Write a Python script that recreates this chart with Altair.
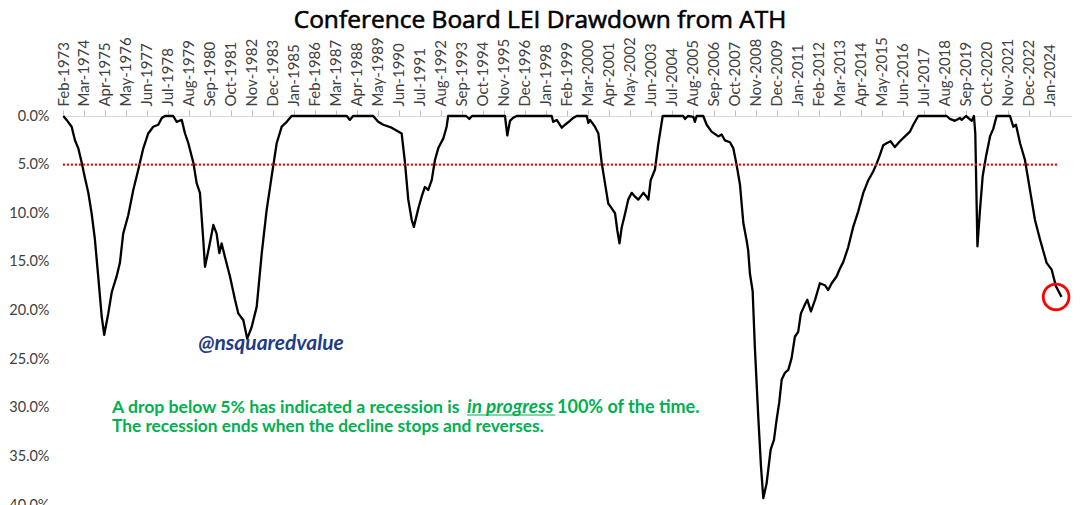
import altair as alt
import pandas as pd

# ---------------- data ----------------
years = [
    1973.10, 1973.27, 1973.53, 1973.70, 1973.87, 1974.05, 1974.22, 1974.39, 1974.56, 1974.73,
    1974.90, 1975.08, 1975.21, 1975.42, 1975.60, 1975.85, 1976.02, 1976.19, 1976.45, 1976.71,
    1976.97, 1977.23, 1977.48, 1977.74, 1978.00, 1978.18, 1978.35, 1978.77, 1978.95, 1979.21,
    1979.38, 1979.55, 1979.81, 1979.98, 1980.15, 1980.32, 1980.41, 1980.63, 1980.84, 1981.01,
    1981.15, 1981.27, 1981.44, 1981.70, 1981.96, 1982.13, 1982.39, 1982.59, 1982.82, 1983.08,
    1983.34, 1983.59, 1983.85, 1984.11, 1984.37, 1984.63, 1984.88, 1987.72, 1987.89, 1988.05,
    1989.09, 1989.35, 1989.61, 1990.04, 1990.38, 1990.56, 1990.73, 1990.90, 1991.08, 1991.19,
    1991.42, 1991.59, 1991.76, 1991.93, 1992.11, 1992.28, 1992.45, 1992.71, 1992.88, 1992.96,
    1993.88, 1994.05, 1994.19, 1995.89, 1996.01, 1996.15, 1996.30, 1996.49, 1998.30, 1998.38,
    1998.56, 1998.82, 1998.99, 1999.24, 1999.41, 1999.59, 2000.11, 2000.19, 2000.28, 2000.53,
    2000.71, 2000.88, 2001.05, 2001.22, 2001.40, 2001.57, 2001.69, 2001.80, 2001.91, 2002.08,
    2002.25, 2002.43, 2002.60, 2002.77, 2003.03, 2003.20, 2003.29, 2003.41, 2003.63, 2003.80,
    2004.03, 2005.09, 2005.18, 2005.33, 2005.61, 2005.69, 2005.78, 2006.12, 2006.30, 2006.55,
    2006.90, 2007.07, 2007.24, 2007.50, 2007.67, 2007.85, 2008.02, 2008.19, 2008.36, 2008.44,
    2008.53, 2008.67, 2008.79, 2008.96, 2009.10, 2009.22, 2009.39, 2009.60, 2009.77, 2009.91,
    2010.04, 2010.17, 2010.34, 2010.51, 2010.68, 2010.85, 2011.02, 2011.16, 2011.32, 2011.49,
    2011.68, 2011.89, 2012.14, 2012.40, 2012.57, 2012.75, 2013.00, 2013.17, 2013.35, 2013.60,
    2013.86, 2014.12, 2014.38, 2014.64, 2014.89, 2015.07, 2015.24, 2015.41, 2015.58, 2015.79,
    2016.01, 2016.27, 2016.53, 2016.79, 2016.96, 2017.22, 2018.68, 2018.85, 2019.11, 2019.37,
    2019.46, 2019.68, 2019.98, 2020.09, 2020.16, 2020.27, 2020.40, 2020.54, 2020.71, 2020.92,
    2021.09, 2021.26, 2021.95, 2022.12, 2022.26, 2022.47, 2022.72, 2022.98, 2023.24, 2023.50,
    2023.84, 2024.10, 2024.32, 2024.61,
]
drawdown_pct = [
    0.0, 0.4, 1.1, 2.5, 3.3, 4.8, 6.4, 7.9, 10.0, 12.7,
    16.5, 20.6, 22.5, 20.3, 18.1, 16.5, 15.1, 12.1, 10.2, 7.6,
    5.5, 3.3, 1.8, 1.1, 0.9, 0.2, 0.0, 0.0, 0.6, 0.4,
    1.8, 2.8, 4.8, 6.9, 7.9, 12.7, 15.5, 13.4, 11.2, 12.1,
    14.1, 13.1, 14.5, 16.5, 18.9, 20.3, 21.0, 22.9, 21.7, 19.6,
    14.1, 9.7, 6.2, 2.8, 1.1, 0.6, 0.0, 0.0, 0.4, 0.0,
    0.0, 0.6, 0.9, 1.2, 1.6, 1.8, 4.8, 8.6, 10.7, 11.4,
    9.5, 8.3, 7.3, 7.6, 6.6, 4.5, 3.3, 2.3, 1.1, 0.0,
    0.0, 0.3, 0.0, 0.0, 2.0, 0.5, 0.2, 0.0, 0.0, 0.6,
    0.4, 1.2, 0.9, 0.5, 0.2, 0.0, 0.0, 0.7, 0.4, 1.1,
    1.8, 4.8, 6.9, 9.0, 9.5, 10.0, 11.8, 13.1, 11.5, 10.1,
    8.6, 7.9, 8.3, 8.6, 7.9, 8.3, 8.6, 6.6, 5.5, 2.9,
    0.0, 0.0, 0.3, 0.0, 0.1, 0.6, 0.0, 0.0, 0.9, 1.6,
    2.1, 1.9, 2.5, 2.7, 3.3, 5.1, 7.1, 11.0, 12.8, 13.8,
    16.2, 18.0, 24.0, 30.9, 36.0, 39.3, 37.8, 34.3, 33.3, 31.2,
    29.5, 27.1, 26.4, 26.1, 24.9, 22.7, 22.2, 20.3, 19.6, 18.9,
    20.1, 18.9, 17.2, 17.4, 17.9, 17.2, 16.5, 15.7, 15.0, 13.5,
    11.4, 9.8, 7.9, 6.6, 5.7, 4.9, 4.0, 3.0, 2.8, 2.6,
    3.2, 2.6, 2.1, 1.6, 0.9, 0.0, 0.0, 0.3, 0.5, 0.2,
    0.4, 0.0, 0.5, 0.0, 1.8, 13.4, 9.7, 6.2, 4.2, 2.1,
    1.3, 0.0, 0.0, 1.1, 0.9, 2.8, 4.5, 7.6, 10.7, 12.7,
    15.1, 15.8, 17.5, 18.6,
]

tick_labels = [
    "Feb-1973", "Mar-1974", "Apr-1975", "May-1976", "Jun-1977", "Jul-1978", "Aug-1979",
    "Sep-1980", "Oct-1981", "Nov-1982", "Dec-1983", "Jan-1985", "Feb-1986", "Mar-1987",
    "Apr-1988", "May-1989", "Jun-1990", "Jul-1991", "Aug-1992", "Sep-1993", "Oct-1994",
    "Nov-1995", "Dec-1996", "Jan-1998", "Feb-1999", "Mar-2000", "Apr-2001", "May-2002",
    "Jun-2003", "Jul-2004", "Aug-2005", "Sep-2006", "Oct-2007", "Nov-2008", "Dec-2009",
    "Jan-2011", "Feb-2012", "Mar-2013", "Apr-2014", "May-2015", "Jun-2016", "Jul-2017",
    "Aug-2018", "Sep-2019", "Oct-2020", "Nov-2021", "Dec-2022", "Jan-2024",
]
label_step_months = 13
y_ticks_pct = [0, 5, 10, 15, 20, 25, 30, 35, 40]

threshold_pct = 5.0
threshold_from_year = 1973.08
threshold_to_year = 2024.42

# red circle highlighting the latest reading
circle_year = [2024.33]
circle_pct = [18.6]

start_year = 1973 + 1 / 12  # Feb-1973 = month 0
x_max_month = 624.8

title_text = "Conference Board LEI Drawdown from ATH"
handle_text = "@nsquaredvalue"
note_a = "A drop below 5% has indicated a recession is"
note_b = "in progress"
note_c = "100% of the time."
note_2 = "The recession ends when the decline stops and reverses."

# ---------------- tables ----------------
df = pd.DataFrame({"year": years, "dd": [v / 100 for v in drawdown_pct]})
df["m"] = (df["year"] - start_year) * 12

circ_df = pd.DataFrame({"year": circle_year, "dd": [v / 100 for v in circle_pct]})
circ_df["m"] = (circ_df["year"] - start_year) * 12

rule_df = pd.DataFrame({
    "m": [(threshold_from_year - start_year) * 12],
    "m2": [(threshold_to_year - start_year) * 12],
    "dd": [threshold_pct / 100],
})

label_array = "[" + ",".join("'" + t + "'" for t in tick_labels) + "]"
tick_values = [i * label_step_months for i in range(len(tick_labels))]

FONT = "Lato"

x_scale = alt.Scale(domain=[0, x_max_month], nice=False, zero=False)
y_scale = alt.Scale(domain=[0, 0.40], reverse=True, nice=False, zero=False)

x_axis = alt.Axis(
    orient="top", values=tick_values, labelExpr=label_array + "[round(datum.value/13)]",
    labelAngle=270, labelFontSize=15, labelColor="#404040", labelFont=FONT,
    tickColor="#bfbfbf", tickSize=6, labelPadding=4, domainColor="#d9d9d9",
    grid=False, title=None, labelOverlap=False, labelFlush=False,
)
y_axis = alt.Axis(
    values=[v / 100 for v in y_ticks_pct], format=".1%", ticks=False, domain=False,
    grid=False, labelFontSize=14.5, labelColor="#404040", labelFont=FONT,
    labelPadding=14, title=None, labelOverlap=False,
)

X = alt.X("m:Q", scale=x_scale, axis=x_axis, title=None)
Y = alt.Y("dd:Q", scale=y_scale, axis=y_axis, title=None)

line = alt.Chart(df).mark_line(color="black", strokeWidth=2.3, strokeJoin="round").encode(
    x=X, y=Y,
)

rule = alt.Chart(rule_df).mark_rule(color="#ff0000", strokeWidth=2.2, strokeDash=[2, 2]).encode(
    x=X, x2="m2:Q", y=Y,
)

circle = alt.Chart(circ_df).mark_point(
    shape="circle", size=660, filled=False, color="#ff0000", strokeWidth=2.8, opacity=1
).encode(
    x=X, y=Y,
)


def txt(text, x, y, font=FONT, **kw):
    return alt.Chart(pd.DataFrame({"a": [0]})).mark_text(text=text, font=font, **kw).encode(
        x=alt.value(x), y=alt.value(y)
    )


title = txt(title_text, 477, -88.5, font="Open Sans", fontSize=24.5, fontWeight="normal",
            stroke="black", strokeWidth=0.6,
            align="center", baseline="alphabetic", color="black")
handle = txt(handle_text, 208, 234, fontSize=21, fontStyle="italic", fontWeight="bold",
             align="center", baseline="alphabetic", color="#1f3c88")
green = "#00b050"
n_a = txt(note_a, 49, 296.5, fontSize=17.6, fontWeight="bold", align="left",
          baseline="alphabetic", color=green)
n_b = txt(note_b, 404, 296.5, fontSize=19, fontWeight="bold", fontStyle="italic", align="left",
          baseline="alphabetic", color=green)
n_c = txt(note_c, 494, 296.5, fontSize=18, fontWeight="bold", align="left",
          baseline="alphabetic", color=green)
n_2 = txt(note_2, 49, 316, fontSize=17.3, fontWeight="bold", align="left",
          baseline="alphabetic", color=green)
underline = alt.Chart(pd.DataFrame({"a": [0]})).mark_rule(color=green, strokeWidth=1.2).encode(
    x=alt.value(404), x2=alt.value(492), y=alt.value(299)
)

chart = alt.layer(line, rule, circle, title, handle, n_a, n_b, n_c, n_2, underline).properties(
    width=1009, height=389,
    padding={"left": 55, "top": 108, "right": 0, "bottom": 0},
    autosize="none",
    background="white",
).configure_view(stroke=None)

chart.save("out.html", embed_options={"renderer": "svg", "actions": False})
